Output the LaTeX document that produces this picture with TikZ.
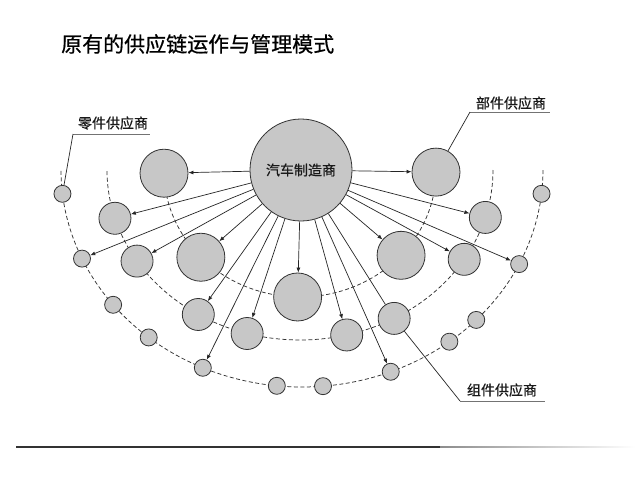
\documentclass[tikz,border=0pt]{standalone}
\usepackage{fontspec}
\newfontfamily\cjk{Noto Sans CJK SC}
\newfontfamily\cjkt[FakeBold=0.6]{Noto Sans CJK SC}
\usetikzlibrary{arrows.meta}
\begin{document}
\begin{tikzpicture}[x=1pt,y=-1pt,
  ball/.style={circle,draw=black!80,fill=black!22,line width=0.8pt,inner sep=0pt},
  hubc/.style={ball,minimum size=102pt},
  bigc/.style={ball,minimum size=48pt},
  midc/.style={ball,minimum size=32pt},
  smlc/.style={ball,minimum size=17pt},
  ring/.style={dash pattern=on 4pt off 2.5pt,black!80,line width=0.75pt},
  arr/.style={-{Latex[length=5pt,width=4pt]},line width=0.7pt,black!85},
  ln/.style={line width=0.7pt,black!85},
  lab/.style={font=\cjkt\fontsize{14}{16}\selectfont,inner sep=0pt,text=black!90},
  uline/.style={line width=1pt,black!55}]

\useasboundingbox (0,0) rectangle (640,480);
\fill[white] (0,0) rectangle (640,480);

% dashed rings
\draw[ring] plot[domain=0:180,samples=100,smooth] ({300+136*cos(\x)},{171+126*sin(\x)});
\draw[ring] plot[domain=0:180,samples=100,smooth] ({300+193*cos(\x)},{170+170*sin(\x)});
\draw[ring] plot[domain=0:180,samples=100,smooth] ({302+241*cos(\x)},{170+217*sin(\x)});

% hub
\node[hubc,font=\cjkt\fontsize{14}{16}\selectfont,text=black!90] (hub) at (301,170) {汽车制造商};

% large circles (ring 1)
\node[bigc] (A) at ({300+136*cos(179)},{171+126*sin(179)}) {};
\node[bigc] (C) at ({300+136*cos(136.8)},{171+126*sin(136.8)}) {};
\node[bigc] (E) at ({300+136*cos(91)},{171+126*sin(91)}) {};
\node[bigc] (D) at ({300+136*cos(42)},{171+126*sin(42)}) {};
\node[bigc] (B) at ({300+136*cos(0.5)},{171+126*sin(0.5)}) {};

% medium circles (ring 2)
\node[midc] (m1) at ({300+193*cos(163.5)},{170+170*sin(163.5)}) {};
\node[midc] (m2) at ({300+193*cos(147.6)},{170+170*sin(147.6)}) {};
\node[midc] (m3) at ({300+193*cos(121.8)},{170+170*sin(121.8)}) {};
\node[midc] (m4) at ({300+193*cos(105.9)},{170+170*sin(105.9)}) {};
\node[midc] (m5) at ({300+193*cos(76)},{170+170*sin(76)}) {};
\node[midc] (m6) at ({300+193*cos(60.8)},{170+170*sin(60.8)}) {};
\node[midc] (m7) at ({300+193*cos(31.7)},{170+170*sin(31.7)}) {};
\node[midc] (m8) at ({300+193*cos(16.2)},{170+170*sin(16.2)}) {};

% small circles (ring 3)
\node[smlc] (s1) at ({302+241*cos(173.7)},{170+217*sin(173.7)}) {};
\node[smlc] (s2) at ({302+241*cos(155.9)},{170+217*sin(155.9)}) {};
\node[smlc] (s3) at ({302+241*cos(141.6)},{170+217*sin(141.6)}) {};
\node[smlc] (s4) at ({302+241*cos(129.5)},{170+217*sin(129.5)}) {};
\node[smlc] (s5) at ({302+241*cos(114.3)},{170+217*sin(114.3)}) {};
\node[smlc] (s6) at ({302+241*cos(96)},{170+217*sin(96)}) {};
\node[smlc] (s7) at ({302+241*cos(85)},{170+217*sin(85)}) {};
\node[smlc] (s8) at ({302+241*cos(68.4)},{170+217*sin(68.4)}) {};
\node[smlc] (s9) at ({302+241*cos(52.3)},{170+217*sin(52.3)}) {};
\node[smlc] (s10) at ({302+241*cos(43.7)},{170+217*sin(43.7)}) {};
\node[smlc] (s11) at ({302+241*cos(25.7)},{170+217*sin(25.7)}) {};
\node[smlc] (s12) at ({302+241*cos(6.3)},{170+217*sin(6.3)}) {};

% arrows from hub
\draw[arr] (hub) -- (A);
\draw[arr] (hub) -- (B);
\draw[arr] (hub) -- (m1);
\draw[arr] (hub) -- (s2);
\draw[arr] (hub) -- (m2);
\draw[arr] (hub) -- (C);
\draw[arr] (hub) -- (m3);
\draw[arr] (hub) -- (s5);
\draw[arr] (hub) -- (m4);
\draw[arr] (hub) -- (E);
\draw[arr] (hub) -- (m5);
\draw[arr] (hub) -- (s8);
\draw[ln] (hub) -- (m6);
\draw[arr] (hub) -- (D);
\draw[arr] (hub) -- (m7);
\draw[arr] (hub) -- (m8);
\draw[arr] (hub) -- (s11);

% labels with leaders
\node[lab] (l1) at (113,123) {零件供应商};
\coordinate (u1a) at (73,134);
\coordinate (u1b) at (150,134);
\draw[uline] (u1a) -- (u1b);
\draw[ln] (u1a) -- (s1);

\node[lab] (l2) at (511,103) {部件供应商};
\coordinate (u2a) at (470,112);
\coordinate (u2b) at (550,112);
\draw[uline] (u2a) -- (u2b);
\draw[ln] (u2a) -- (B);

\node[lab] (l3) at (502,390) {组件供应商};
\coordinate (u3a) at (460,401);
\coordinate (u3b) at (545,401);
\draw[uline] (u3a) -- (u3b);
\draw[ln] (u3a) -- (m6);

% title
\node[anchor=west,font=\cjkt\fontsize{21}{24}\selectfont,inner sep=0pt] (title) at (61,44) {原有的供应链运作与管理模式};

% bottom rule
\coordinate (b1) at (16,447);
\coordinate (b2) at (440,447);
\draw[line width=1.2pt,black!80] (b1) -- (b2);
\shade[left color=black!45,right color=white] (440,446.4) rectangle (635,447.6);
\end{tikzpicture}
\end{document}
